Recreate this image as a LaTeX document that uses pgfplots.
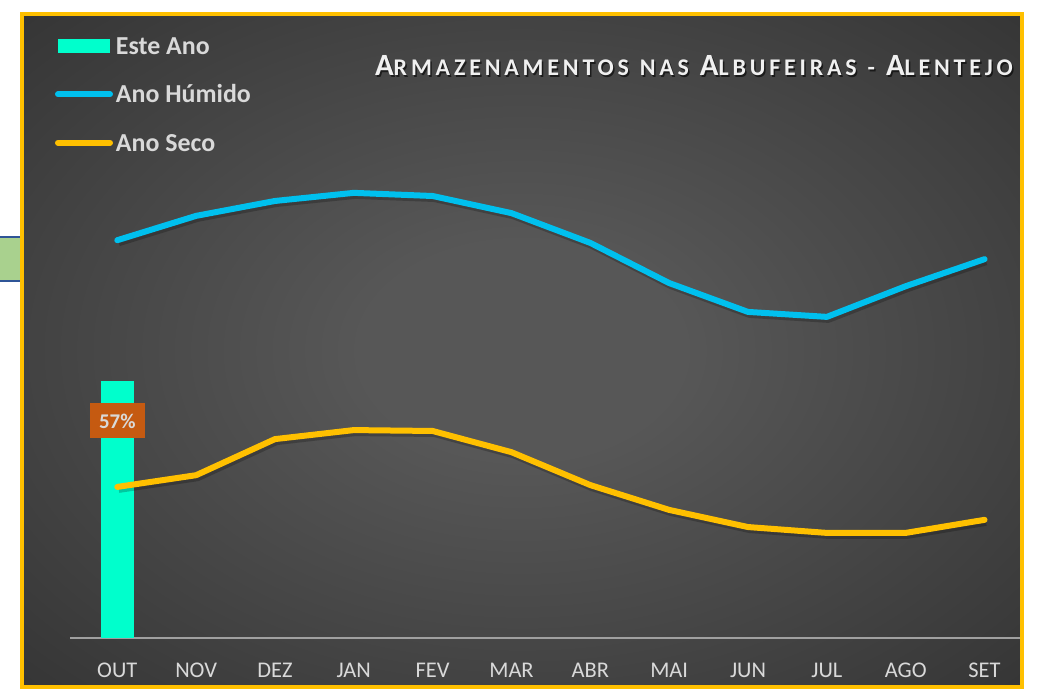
\documentclass[border=0pt]{standalone}
\usepackage{pgfplots}
\pgfplotsset{compat=1.18}
\usepackage{fontspec}
\setmainfont{Carlito}
\definecolor{gold}{HTML}{FFC000}
\definecolor{tealbar}{HTML}{00FFCC}
\definecolor{humid}{HTML}{00C0EE}
\definecolor{lbl}{HTML}{C55A11}
\definecolor{txt}{HTML}{D9D9D9}
\definecolor{bgc}{HTML}{575757}
\definecolor{bgm}{HTML}{3C3C3C}
\definecolor{bge}{HTML}{242424}
\definecolor{artg}{HTML}{A9D18E}
\definecolor{artb}{HTML}{2F5597}
\definecolor{axl}{HTML}{A0A0A0}
\pgfdeclareradialshading{bgshade}{\pgfpoint{0bp}{0bp}}{color(0bp)=(bgc); color(8bp)=(bgc); color(30bp)=(bgm); color(50bp)=(bge)}
\newcommand{\SC}[2]{{\fontsize{31}{31}\selectfont #1}{\fontsize{24}{24}\selectfont #2}}
\newcommand{\SP}{\hspace{11bp}}
\newcommand{\TitleText}{\SC{A}{RMAZENAMENTOS}\SP\SC{}{NAS}\SP\SC{A}{LBUFEIRAS}\SP\SC{}{-}\SP\SC{A}{LENTEJO}}
\begin{document}
\begin{tikzpicture}[x=1bp,y=1bp]
\useasboundingbox (0,0) rectangle (1045,690);
\fill[white] (0,0) rectangle (1045,690);
% fragment of a neighbouring shape at the left edge
\fill[artg] (0,410) rectangle (21,453);
\draw[artb, line width=1.8bp] (0,453) -- (21,453);
\draw[artb, line width=1.8bp] (0,409) -- (21,409);
% chart area
\shade[shading=bgshade] (22,3) rectangle (1021.5,676);
\draw[gold, line width=4bp] (22,3) rectangle (1021.5,676);
\begin{axis}[
  at={(70bp,52bp)}, anchor=south west,
  scale only axis, width=950bp, height=451bp,
  xmin=-0.6, xmax=11.45, ymin=0, ymax=100,
  axis x line*=bottom, axis y line=none,
  x axis line style={-, draw=axl, line width=2bp},
  xtick={0,...,11},
  xticklabels={OUT,NOV,DEZ,JAN,FEV,MAR,ABR,MAI,JUN,JUL,AGO,SET},
  xtick style={draw=none},
  xticklabel style={anchor=base, yshift=-40bp, text=txt, font=\fontsize{22.5}{22.5}\selectfont},
  clip=false,
  legend cell align=left,
  legend style={at={(axis description cs:-0.0158,1.3326)}, anchor=north west,
    draw=none, fill=none, inner sep=0pt, outer sep=0pt,
    font=\bfseries\fontsize{26}{26}\selectfont, text=txt,
    row sep=31bp,
    nodes={inner sep=0pt, text height=17.5bp, text depth=0bp},
    /tikz/column 1/.style={column sep=3bp}},
]
% bar
\addplot[ybar, bar width=33bp, fill=tealbar, draw=none,
  point meta=y,
  nodes near coords={\pgfmathprintnumber[assume math mode=true]{\pgfplotspointmeta}\%},
  every node near coord/.append style={anchor=center, yshift=-40bp,
     fill=lbl, text=txt, font=\bfseries\fontsize{21}{21}\selectfont,
     minimum width=55bp, minimum height=35bp, inner sep=0pt},
  legend image code/.code={\path (-3bp,0bp) (55bp,0bp); \fill[tealbar] (0bp,-7bp) rectangle (52bp,7bp);}
] coordinates {(0,57)};
\addlegendentry{Este Ano}
% shadows
\addplot[black, opacity=0.22, line width=7bp, line join=round, xshift=1.5bp, yshift=-2.5bp, forget plot] coordinates {
(0,88.2) (1,93.6) (2,96.9) (3,98.7) (4,98.0) (5,94.2) (6,87.6) (7,78.7) (8,72.3) (9,71.2) (10,78.0) (11,84.0)};
\addplot[black, opacity=0.22, line width=7bp, line join=round, xshift=1.5bp, yshift=-2.5bp, forget plot] coordinates {
(0,33.5) (1,36.1) (2,44.1) (3,46.1) (4,45.9) (5,41.2) (6,33.9) (7,28.4) (8,24.6) (9,23.3) (10,23.3) (11,26.2)};
% lines
\addplot[humid, line width=6bp, line cap=round, line join=round,
  legend image code/.code={\draw[humid, line width=6bp, line cap=round] (0bp,0bp) -- (52bp,0bp);}] coordinates {
(0,88.2) (1,93.6) (2,96.9) (3,98.7) (4,98.0) (5,94.2) (6,87.6) (7,78.7) (8,72.3) (9,71.2) (10,78.0) (11,84.0)};
\addlegendentry{Ano Húmido}
\addplot[gold, line width=6bp, line cap=round, line join=round,
  legend image code/.code={\draw[gold, line width=6bp, line cap=round] (0bp,0bp) -- (52bp,0bp);}] coordinates {
(0,33.5) (1,36.1) (2,44.1) (3,46.1) (4,45.9) (5,41.2) (6,33.9) (7,28.4) (8,24.6) (9,23.3) (10,23.3) (11,26.2)};
\addlegendentry{Ano Seco}
\end{axis}
% title
\node[anchor=base east, text=black, opacity=0.6, inner sep=0pt, font=\bfseries\addfontfeatures{LetterSpace=16}] at (1014.5,612.5) {\TitleText};
\node[anchor=base east, text=white!94!black, inner sep=0pt, font=\bfseries\addfontfeatures{LetterSpace=16}] at (1013,614) {\TitleText};
\end{tikzpicture}
\end{document}
